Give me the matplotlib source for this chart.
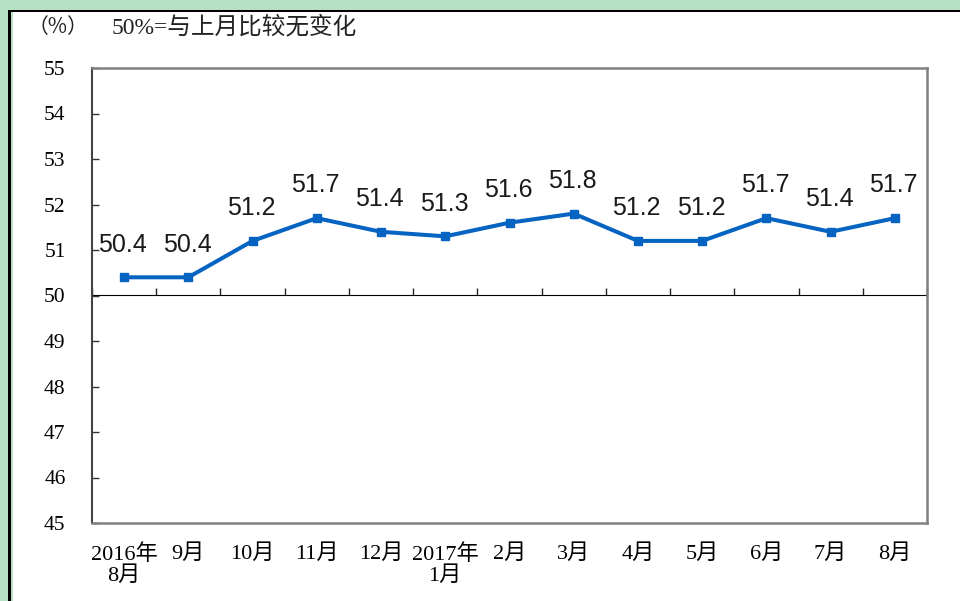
import matplotlib
matplotlib.use("Agg")
import matplotlib.pyplot as plt
from matplotlib.patches import Rectangle
import numpy as np

categories = ["2016年\n8月", "9月", "10月", "11月", "12月", "2017年\n1月", "2月",
              "3月", "4月", "5月", "6月", "7月", "8月"]
values = [50.4, 50.4, 51.2, 51.7, 51.4, 51.3, 51.6, 51.8, 51.2, 51.2, 51.7, 51.4, 51.7]
y_ticks = [45, 46, 47, 48, 49, 50, 51, 52, 53, 54, 55]
unit_label = "（%）"
note_label = "50%=与上月比较无变化"

W, H = 960, 601
fig = plt.figure(figsize=(W / 100, H / 100), dpi=100)
fig.patch.set_facecolor("white")

# green frame band + black border (top and left)
green = "#b7dfc2"
fig.add_artist(Rectangle((0, 1 - 10 / H), 1, 10 / H, transform=fig.transFigure,
                         facecolor=green, edgecolor="none", zorder=0))
fig.add_artist(Rectangle((0, 0), 13 / W, 1 - 10 / H, transform=fig.transFigure,
                         facecolor=green, edgecolor="none", zorder=0))
fig.add_artist(Rectangle((8 / W, 0), 3 / W, 1 - 10 / H, transform=fig.transFigure,
                         facecolor="black", edgecolor="none", zorder=1))
fig.add_artist(Rectangle((8 / W, 1 - 12 / H), 1 - 8 / W, 2 / H, transform=fig.transFigure,
                         facecolor="black", edgecolor="none", zorder=1))
fig.add_artist(Rectangle((13 / W, 0), 1 - 13 / W, 1 - 12 / H, transform=fig.transFigure,
                         facecolor="white", edgecolor="none", zorder=0))

left, right, top, bottom = 92, 927, 68, 523
ax = fig.add_axes([left / W, 1 - bottom / H, (right - left) / W, (bottom - top) / H])
ax.set_facecolor("white")

x = np.arange(len(categories))
ax.plot(x, values, color="#0563C1", lw=2.9, marker="s", markersize=6, zorder=3)
for xi, v in zip(x, values):
    ax.annotate(f"{v:.1f}", (xi, v), xytext=(-1, 18.5), textcoords="offset points",
                ha="center", va="baseline", fontsize=18, color="#1a1a1a",
                family=["Liberation Sans"])

ax.set_xlim(-0.5, len(categories) - 0.5)
ax.set_ylim(y_ticks[0], y_ticks[-1])
ax.set_yticks(y_ticks)
ax.set_yticklabels([str(t) for t in y_ticks], family=["Liberation Serif", "Noto Sans CJK SC"],
                   fontsize=15.5, color="#000000")
ax.tick_params(axis="y", direction="in", length=5, width=1, pad=19, color="#333333")

ax.set_xticks(x)
ax.set_xticklabels(categories, family=["Liberation Serif", "Noto Sans CJK SC"],
                   fontsize=16, color="#000000", linespacing=1.12, va="top",
                   fontweight="medium")
ax.tick_params(axis="x", length=0, pad=15)

# axis line at 50 with boundary ticks pointing up
sec = ax.secondary_xaxis(0.5)
sec.set_xticks(np.arange(len(categories) + 1) - 0.5)
sec.set_xticklabels([])
sec.tick_params(axis="x", direction="out", length=5, width=1, color="#222222")
sec.spines["bottom"].set_color("#111111")
sec.spines["bottom"].set_linewidth(1.2)

for s in ["top", "right", "bottom"]:
    ax.spines[s].set_color("#808080")
    ax.spines[s].set_linewidth(1.8)
ax.spines["left"].set_color("#444444")
ax.spines["left"].set_linewidth(1.5)

fig.text(28 / W, 1 - 27 / H, unit_label, family=["Noto Sans CJK SC"], fontsize=15,
         va="center", ha="left", color="#222222")
fig.text(112 / W, 1 - 27 / H, note_label, family=["Liberation Serif", "Noto Sans CJK SC"],
         fontsize=17, va="center", ha="left", color="#222222")

fig.savefig("out.png", dpi=100)
